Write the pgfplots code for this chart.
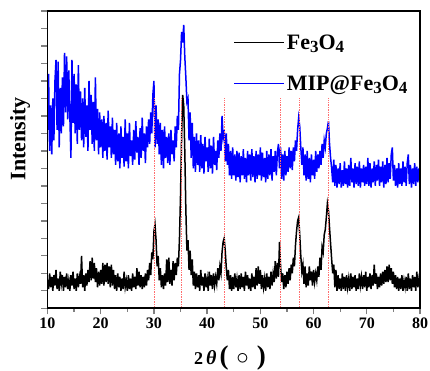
\documentclass[border=0pt]{standalone}
\usepackage{fontspec}
\setmainfont{Liberation Serif}
\usepackage{pgfplots}
\pgfplotsset{compat=1.18}
\definecolor{refline}{RGB}{255,110,110}
\newcommand\sub[1]{\raisebox{-0.32ex}{\fontsize{17}{17}\selectfont #1}}
\begin{document}
\begin{tikzpicture}
\useasboundingbox (-47.5pt,-62.7pt) rectangle (382.5pt,308.3pt);
\begin{axis}[
  at={(0pt,0pt)}, anchor=south west,
  scale only axis,
  width=372.5pt, height=297.3pt,
  xmin=10, xmax=80, ymin=0, ymax=17,
  xtick={10,20,...,80},
  minor x tick num=1,
  ytick={0,1,...,17},
  yticklabels={},
  tick align=outside,
  xtick pos=left, ytick pos=left,
  major tick length=6pt, minor tick length=3.5pt,
  axis line style={line width=1.6pt},
  tick style={line width=1.3pt},
  tick label style={font=\fontsize{16}{18}\selectfont\bfseries},
  /pgf/number format/assume math mode=true,
  xlabel={2\,{\fontsize{20}{20}\selectfont\itshape θ}\,{\fontsize{27}{27}\selectfont(}\hspace{8pt}{\fontsize{24}{24}\selectfont$\circ$}\hspace{8pt}{\fontsize{27}{27}\selectfont)}},
  xlabel style={font=\fontsize{18}{20}\selectfont\bfseries, at={(axis description cs:0.49,-0.115)}, anchor=north},
  ylabel={Intensity},
  ylabel style={font=\fontsize{22}{24}\selectfont\bfseries, at={(axis description cs:-0.037,0.57)}, anchor=south},
  legend style={draw=none, fill=none, at={(axis description cs:0.5,0.928)}, anchor=north west, font=\fontsize{22}{24}\selectfont\bfseries, row sep=21pt, inner sep=0pt},
  legend cell align=left,
  reverse legend,
  legend image code/.code={\draw[#1, line width=0.9pt] (0pt,0pt) -- (50pt,0pt);},
]
\addplot[color=blue, line width=1.5pt] coordinates {
(10.0,10.2)(10.2,13.4)(10.4,9.0)(10.6,11.6)(10.8,8.8)(11.0,12.0)(11.2,9.6)(11.4,13.0)(11.6,14.2)(11.8,10.2)
(12.0,14.1)(12.2,9.2)(12.4,12.6)(12.6,10.0)(12.8,13.2)(13.0,10.4)(13.2,14.6)(13.4,11.2)(13.6,14.4)(13.8,10.8)
(14.0,13.6)(14.2,11.0)(14.4,8.6)(14.6,14.2)(14.8,10.6)(15.0,13.4)(15.2,10.0)(15.4,12.8)(15.6,9.4)(15.8,13.9)
(16.0,10.2)(16.2,12.4)(16.4,9.6)(16.6,12.0)(16.8,9.2)(17.0,12.6)(17.2,9.8)(17.4,11.6)(17.6,9.0)(17.8,13.0)
(18.0,10.2)(18.2,12.2)(18.4,9.4)(18.6,11.8)(18.8,9.0)(19.0,13.2)(19.2,9.6)(19.4,11.4)(19.6,8.8)(19.8,11.2)
(20.0,9.2)(20.2,10.8)(20.4,8.6)(20.6,11.0)(20.8,9.0)(21.0,10.6)(21.2,8.5)(21.4,11.3)(21.6,9.2)(21.8,10.4)
(22.0,8.6)(22.2,10.9)(22.4,8.8)(22.6,10.2)(22.8,8.2)(23.0,10.6)(23.2,8.4)(23.4,10.0)(23.6,8.0)(23.8,10.4)
(24.0,8.6)(24.2,9.8)(24.4,8.1)(24.6,10.8)(24.8,8.4)(25.0,10.0)(25.2,8.0)(25.4,10.6)(25.6,8.7)(25.8,9.6)
(26.0,8.2)(26.2,10.2)(26.4,8.5)(26.6,10.7)(26.8,8.9)(27.0,9.8)(27.2,8.2)(27.4,10.3)(27.6,8.6)(27.8,10.9)
(28.0,9.0)(28.2,10.0)(28.4,8.3)(28.6,10.4)(28.8,9.2)(29.0,10.8)(29.2,9.4)(29.4,11.2)(29.6,10.0)(29.8,12.2)
(30.0,13.0)(30.2,9.2)(30.4,11.6)(30.6,9.4)(30.8,10.8)(31.0,8.8)(31.2,10.6)(31.4,8.2)(31.6,10.2)(31.8,8.0)
(32.0,10.4)(32.2,8.6)(32.4,9.8)(32.6,8.3)(32.8,10.0)(33.0,8.2)(33.2,10.2)(33.4,8.8)(33.6,9.6)(33.8,8.4)
(34.0,10.4)(34.2,9.2)(34.4,11.0)(34.6,10.2)(34.8,13.4)(35.0,14.2)(35.2,15.8)(35.4,15.2)(35.6,16.2)(35.8,14.4)
(36.0,13.2)(36.2,11.8)(36.4,12.0)(36.6,9.6)(36.8,11.2)(37.0,8.6)(37.2,10.6)(37.4,8.0)(37.6,9.8)(37.8,7.8)
(38.0,10.0)(38.2,8.2)(38.4,9.6)(38.6,7.8)(38.8,9.9)(39.0,8.0)(39.2,9.4)(39.4,7.7)(39.6,9.8)(39.8,8.4)
(40.0,9.2)(40.2,7.8)(40.4,9.7)(40.6,8.0)(40.8,9.3)(41.0,7.7)(41.2,9.8)(41.4,8.2)(41.6,9.0)(41.8,7.9)
(42.0,9.6)(42.2,8.6)(42.4,10.0)(42.6,9.0)(42.8,11.0)(43.0,9.8)(43.2,10.2)(43.4,8.4)(43.6,10.0)(43.8,8.2)
(44.0,9.4)(44.2,7.6)(44.4,9.0)(44.6,7.4)(44.8,9.2)(45.0,7.6)(45.2,8.8)(45.4,7.3)(45.6,9.0)(45.8,7.5)
(46.0,8.9)(46.2,7.2)(46.4,8.7)(46.6,7.6)(46.8,9.1)(47.0,7.4)(47.2,8.6)(47.4,7.2)(47.6,9.0)(47.8,7.6)
(48.0,8.8)(48.2,7.3)(48.4,9.1)(48.6,7.5)(48.8,8.7)(49.0,7.2)(49.2,9.0)(49.4,7.4)(49.6,8.8)(49.8,7.6)
(50.0,9.2)(50.2,7.3)(50.4,8.9)(50.6,7.5)(50.8,8.6)(51.0,7.2)(51.2,9.0)(51.4,7.4)(51.6,8.8)(51.8,7.6)
(52.0,9.1)(52.2,7.3)(52.4,8.7)(52.6,7.8)(52.8,9.0)(53.0,7.6)(53.2,8.9)(53.4,9.4)(53.6,8.0)(53.8,9.2)
(54.0,7.4)(54.2,8.8)(54.4,7.3)(54.6,9.0)(54.8,7.6)(55.0,8.7)(55.2,7.8)(55.4,9.2)(55.6,8.0)(55.8,9.0)
(56.0,7.9)(56.2,9.2)(56.4,8.4)(56.6,9.6)(56.8,9.0)(57.0,10.2)(57.2,10.9)(57.4,10.4)(57.6,9.2)(57.8,8.2)
(58.0,9.2)(58.2,7.6)(58.4,8.8)(58.6,7.3)(58.8,9.0)(59.0,7.4)(59.2,8.6)(59.4,7.2)(59.6,8.8)(59.8,7.6)
(60.0,8.5)(60.2,7.4)(60.4,9.0)(60.6,7.8)(60.8,8.8)(61.0,8.0)(61.2,9.0)(61.4,8.2)(61.6,9.4)(61.8,8.6)
(62.0,9.6)(62.2,9.2)(62.4,10.0)(62.6,10.3)(62.8,10.7)(63.0,9.4)(63.2,8.6)(63.4,8.0)(63.6,7.2)(63.8,8.5)
(64.0,7.0)(64.2,8.2)(64.4,6.9)(64.6,8.0)(64.8,7.1)(65.0,8.3)(65.2,6.9)(65.4,7.9)(65.6,7.0)(65.8,8.4)
(66.0,7.1)(66.2,8.0)(66.4,6.9)(66.6,8.2)(66.8,7.0)(67.0,8.6)(67.2,7.2)(67.4,8.0)(67.6,6.9)(67.8,8.3)
(68.0,7.1)(68.2,8.1)(68.4,7.0)(68.6,8.4)(68.8,6.9)(69.0,8.0)(69.2,7.2)(69.4,8.2)(69.6,7.0)(69.8,8.1)
(70.0,7.1)(70.2,8.6)(70.4,7.0)(70.6,8.3)(70.8,6.9)(71.0,8.0)(71.2,7.2)(71.4,8.4)(71.6,7.0)(71.8,8.2)
(72.0,7.3)(72.2,8.5)(72.4,7.0)(72.6,8.1)(72.8,7.2)(73.0,8.4)(73.2,6.9)(73.4,8.2)(73.6,7.1)(73.8,8.6)
(74.0,7.2)(74.2,8.3)(74.4,7.4)(74.6,8.8)(74.8,9.2)(75.0,7.3)(75.2,8.2)(75.4,7.0)(75.6,8.0)(75.8,6.9)
(76.0,8.3)(76.2,7.1)(76.4,8.0)(76.6,7.0)(76.8,8.4)(77.0,7.2)(77.2,8.1)(77.4,7.0)(77.6,8.3)(77.8,8.8)
(78.0,7.1)(78.2,8.2)(78.4,6.9)(78.6,8.0)(78.8,7.1)(79.0,8.3)(79.2,7.0)(79.4,8.1)(79.6,7.2)(79.8,8.0)
(80.0,7.4)
};
\addlegendentry{MIP@Fe\sub{3}O\sub{4}}
\addplot[color=black, line width=1.5pt] coordinates {
(10.0,1.6)(10.2,1.1)(10.4,2.0)(10.6,1.2)(10.8,1.8)(11.0,1.0)(11.2,1.9)(11.4,1.3)(11.6,2.2)(11.8,1.1)
(12.0,1.7)(12.2,1.0)(12.4,2.1)(12.6,1.4)(12.8,1.9)(13.0,1.0)(13.2,1.8)(13.4,1.2)(13.6,2.0)(13.8,1.1)
(14.0,1.6)(14.2,1.0)(14.4,1.9)(14.6,1.3)(14.8,2.1)(15.0,1.1)(15.2,1.7)(15.4,1.0)(15.6,2.0)(15.8,1.2)
(16.0,1.8)(16.2,1.4)(16.4,3.0)(16.6,1.2)(16.8,1.9)(17.0,1.0)(17.2,2.0)(17.4,1.3)(17.6,2.2)(17.8,1.5)
(18.0,2.7)(18.2,1.6)(18.4,2.9)(18.6,1.7)(18.8,2.6)(19.0,1.5)(19.2,2.3)(19.4,1.2)(19.6,2.1)(19.8,1.3)
(20.0,2.2)(20.2,1.4)(20.4,2.6)(20.6,1.3)(20.8,2.5)(21.0,1.5)(21.2,2.6)(21.4,1.4)(21.6,2.4)(21.8,1.2)
(22.0,2.5)(22.2,1.3)(22.4,2.2)(22.6,1.1)(22.8,1.9)(23.0,1.0)(23.2,2.0)(23.4,1.2)(23.6,1.8)(23.8,1.0)
(24.0,1.7)(24.2,1.1)(24.4,2.1)(24.6,1.2)(24.8,1.6)(25.0,1.0)(25.2,1.9)(25.4,1.1)(25.6,1.7)(25.8,1.0)
(26.0,2.0)(26.2,1.2)(26.4,1.8)(26.6,1.1)(26.8,2.3)(27.0,1.3)(27.2,2.1)(27.4,1.2)(27.6,1.9)(27.8,1.1)
(28.0,1.8)(28.2,1.2)(28.4,2.0)(28.6,1.3)(28.8,2.2)(29.0,1.6)(29.2,2.6)(29.4,1.9)(29.6,3.2)(29.8,2.8)
(30.0,4.4)(30.2,4.8)(30.4,3.9)(30.6,2.4)(30.8,3.0)(31.0,1.6)(31.2,2.3)(31.4,1.2)(31.6,1.9)(31.8,1.1)
(32.0,2.0)(32.2,1.3)(32.4,2.8)(32.6,1.5)(32.8,2.9)(33.0,1.4)(33.2,2.2)(33.4,1.3)(33.6,2.7)(33.8,1.6)
(34.0,2.6)(34.2,1.9)(34.4,2.9)(34.6,2.4)(34.8,4.0)(35.0,6.5)(35.2,9.8)(35.4,12.2)(35.6,11.6)(35.8,9.0)
(36.0,5.6)(36.2,3.3)(36.4,3.9)(36.6,2.2)(36.8,3.3)(37.0,1.9)(37.2,2.8)(37.4,1.3)(37.6,2.1)(37.8,1.1)
(38.0,2.0)(38.2,1.2)(38.4,1.9)(38.6,1.0)(38.8,2.2)(39.0,1.3)(39.2,1.8)(39.4,1.0)(39.6,2.0)(39.8,1.2)
(40.0,1.7)(40.2,1.0)(40.4,2.1)(40.6,1.3)(40.8,1.9)(41.0,1.1)(41.2,2.0)(41.4,1.3)(41.6,1.8)(41.8,1.4)
(42.0,2.3)(42.2,1.6)(42.4,2.4)(42.6,2.0)(42.8,3.2)(43.0,3.8)(43.2,4.0)(43.4,3.3)(43.6,2.3)(43.8,1.6)
(44.0,2.2)(44.2,1.1)(44.4,1.9)(44.6,1.0)(44.8,1.8)(45.0,1.1)(45.2,2.0)(45.4,1.2)(45.6,1.7)(45.8,1.0)
(46.0,1.9)(46.2,1.1)(46.4,2.0)(46.6,1.2)(46.8,1.8)(47.0,1.0)(47.2,2.1)(47.4,1.3)(47.6,1.9)(47.8,1.1)
(48.0,1.7)(48.2,1.0)(48.4,2.0)(48.6,1.2)(48.8,1.8)(49.0,1.1)(49.2,2.3)(49.4,1.3)(49.6,2.4)(49.8,1.4)
(50.0,2.2)(50.2,1.1)(50.4,1.9)(50.6,1.2)(50.8,1.7)(51.0,1.0)(51.2,2.0)(51.4,1.2)(51.6,1.8)(51.8,1.1)
(52.0,2.1)(52.2,1.3)(52.4,2.0)(52.6,1.5)(52.8,2.7)(53.0,1.7)(53.2,2.6)(53.4,1.8)(53.6,3.8)(53.8,2.4)
(54.0,1.5)(54.2,2.0)(54.4,1.1)(54.6,1.9)(54.8,1.2)(55.0,2.1)(55.2,1.4)(55.4,2.3)(55.6,1.6)(55.8,2.5)
(56.0,2.0)(56.2,2.9)(56.4,2.4)(56.6,3.6)(56.8,4.4)(57.0,5.0)(57.2,5.2)(57.4,4.2)(57.6,3.0)(57.8,2.1)
(58.0,2.5)(58.2,1.4)(58.4,2.4)(58.6,1.2)(58.8,2.0)(59.0,1.3)(59.2,2.4)(59.4,1.6)(59.6,2.1)(59.8,1.3)
(60.0,2.2)(60.2,1.5)(60.4,2.0)(60.6,1.6)(60.8,2.4)(61.0,1.8)(61.2,2.9)(61.4,2.2)(61.6,3.5)(61.8,3.2)
(62.0,4.2)(62.2,4.5)(62.4,5.2)(62.6,6.0)(62.8,5.6)(63.0,4.6)(63.2,3.7)(63.4,2.8)(63.6,2.0)(63.8,2.5)
(64.0,1.2)(64.2,2.2)(64.4,1.0)(64.6,1.9)(64.8,1.1)(65.0,1.7)(65.2,1.0)(65.4,2.0)(65.6,1.1)(65.8,1.8)
(66.0,1.0)(66.2,1.9)(66.4,1.2)(66.6,1.7)(66.8,1.0)(67.0,2.0)(67.2,1.1)(67.4,1.8)(67.6,1.2)(67.8,1.9)
(68.0,1.0)(68.2,1.7)(68.4,1.1)(68.6,2.0)(68.8,1.3)(69.0,1.8)(69.2,1.1)(69.4,1.9)(69.6,1.2)(69.8,2.1)
(70.0,1.0)(70.2,1.8)(70.4,1.2)(70.6,2.0)(70.8,1.1)(71.0,1.9)(71.2,1.3)(71.4,2.5)(71.6,1.4)(71.8,2.0)
(72.0,1.1)(72.2,1.8)(72.4,1.2)(72.6,2.0)(72.8,1.3)(73.0,2.1)(73.2,1.4)(73.4,2.2)(73.6,1.5)(73.8,2.4)
(74.0,1.5)(74.2,2.5)(74.4,1.6)(74.6,2.3)(74.8,1.4)(75.0,2.1)(75.2,1.2)(75.4,1.9)(75.6,1.1)(75.8,1.8)
(76.0,1.0)(76.2,1.7)(76.4,1.1)(76.6,1.9)(76.8,1.0)(77.0,1.6)(77.2,1.2)(77.4,1.8)(77.6,1.0)(77.8,2.0)
(78.0,1.1)(78.2,1.7)(78.4,1.0)(78.6,1.9)(78.8,1.2)(79.0,1.8)(79.2,1.0)(79.4,2.1)(79.6,1.2)(79.8,1.7)
(80.0,1.3)
};
\addlegendentry{Fe\sub{3}O\sub{4}}
\addplot[refline, densely dotted, line width=0.7pt, forget plot] coordinates {(30.1,0)(30.1,12)};
\addplot[refline, densely dotted, line width=0.7pt, forget plot] coordinates {(35.1,0)(35.1,12)};
\addplot[refline, densely dotted, line width=0.7pt, forget plot] coordinates {(43.3,0)(43.3,12)};
\addplot[refline, densely dotted, line width=0.7pt, forget plot] coordinates {(53.7,0)(53.7,12)};
\addplot[refline, densely dotted, line width=0.7pt, forget plot] coordinates {(57.3,0)(57.3,12)};
\addplot[refline, densely dotted, line width=0.7pt, forget plot] coordinates {(62.8,0)(62.8,12)};
\end{axis}
\draw[line width=1.6pt, black] (current axis.south west) rectangle (current axis.north east);
\end{tikzpicture}
\end{document}
